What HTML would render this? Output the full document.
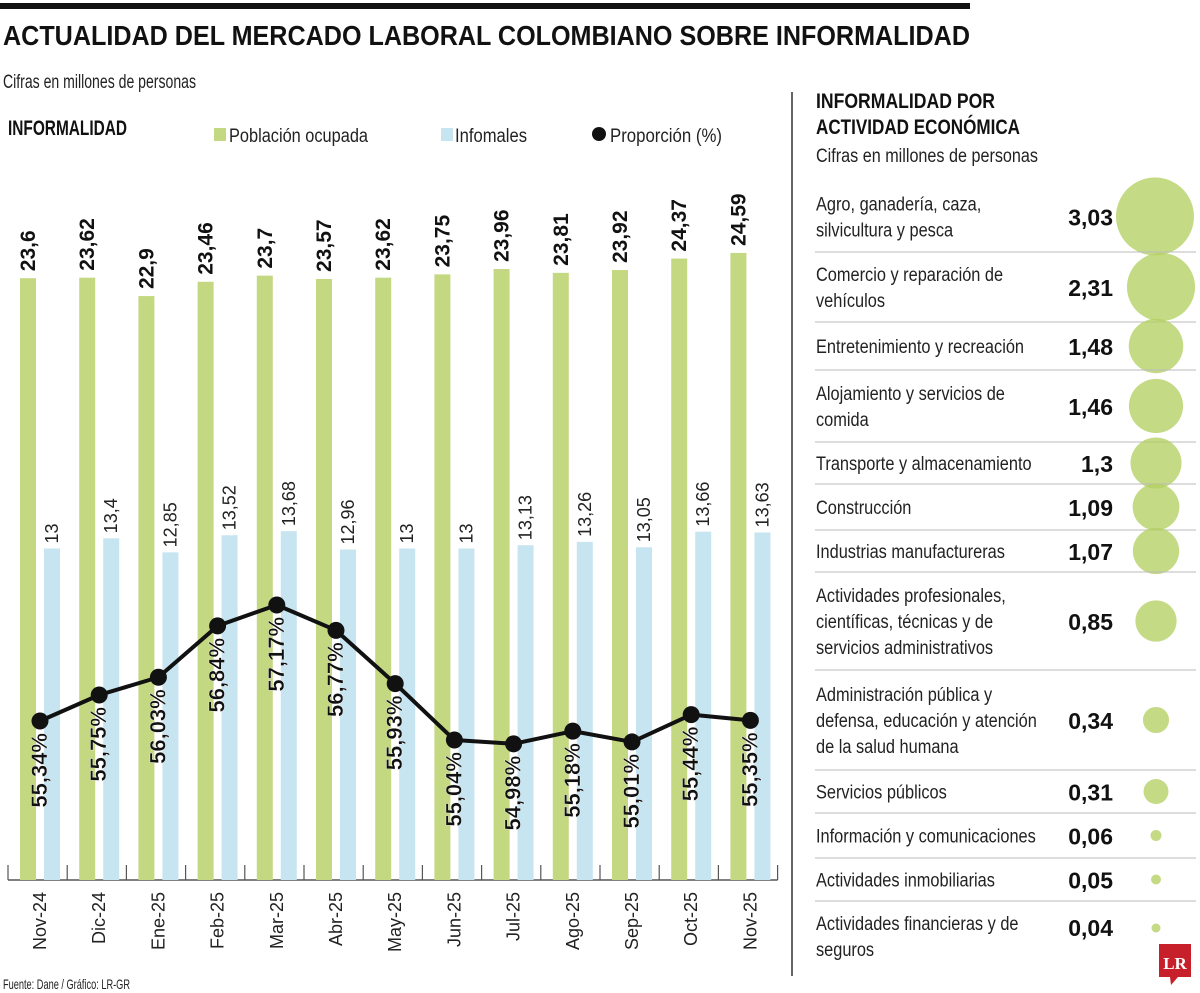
<!DOCTYPE html>
<html><head><meta charset="utf-8"><style>
body{margin:0;background:#fff;}
svg{display:block;font-family:"Liberation Sans Narrow","Liberation Sans",sans-serif;}
</style></head><body>
<svg id="chart" width="1200" height="993" viewBox="0 0 1200 993" xmlns="http://www.w3.org/2000/svg">
<rect x="0" y="3" width="970" height="6" fill="#111"/>
<text x="3" y="45" font-size="28" font-weight="bold" fill="#111" textLength="967" lengthAdjust="spacingAndGlyphs">ACTUALIDAD DEL MERCADO LABORAL COLOMBIANO SOBRE INFORMALIDAD</text>
<text x="3" y="88" font-size="19" fill="#222" textLength="193" lengthAdjust="spacingAndGlyphs">Cifras en millones de personas</text>
<text x="8" y="135" font-size="21" font-weight="bold" fill="#111" textLength="119" lengthAdjust="spacingAndGlyphs">INFORMALIDAD</text>
<g>
<rect x="214" y="128" width="12" height="13" fill="#c4d882"/>
<text x="229" y="142" font-size="19" fill="#222" textLength="139" lengthAdjust="spacingAndGlyphs">Población ocupada</text>
<rect x="441" y="128" width="12" height="13" fill="#c7e5f1"/>
<text x="455" y="142" font-size="19" fill="#222" textLength="72" lengthAdjust="spacingAndGlyphs">Infomales</text>
<circle cx="599" cy="134" r="7" fill="#111"/>
<text x="610" y="142" font-size="19" fill="#222" textLength="112" lengthAdjust="spacingAndGlyphs">Proporción (%)</text>
</g>
<g id="bars"></g>
<g id="line"></g>
<line x1="792" y1="92" x2="792" y2="976" stroke="#333" stroke-width="1.5"/>
<text x="816" y="108" font-size="21" font-weight="bold" fill="#111" textLength="179" lengthAdjust="spacingAndGlyphs">INFORMALIDAD POR</text>
<text x="816" y="134" font-size="21" font-weight="bold" fill="#111" textLength="204" lengthAdjust="spacingAndGlyphs">ACTIVIDAD ECONÓMICA</text>
<text x="816" y="162" font-size="19" fill="#222" textLength="222" lengthAdjust="spacingAndGlyphs">Cifras en millones de personas</text>
<g id="panel"></g>
<text x="3" y="989" font-size="14" fill="#222" textLength="127" lengthAdjust="spacingAndGlyphs">Fuente: Dane / Gráfico: LR-GR</text>
<g>
<rect x="1159" y="944" width="32" height="33" fill="#c8202a"/>
<polygon points="1170,977 1178,977 1171,985" fill="#c8202a"/>
<text x="1175" y="969" font-size="17" font-weight="bold" fill="#fff" text-anchor="middle" font-family="Liberation Serif,serif">LR</text>
</g>
</svg>
<script>
const months=["Nov-24","Dic-24","Ene-25","Feb-25","Mar-25","Abr-25","May-25","Jun-25","Jul-25","Ago-25","Sep-25","Oct-25","Nov-25"];
const ocupada=[23.6,23.62,22.9,23.46,23.7,23.57,23.62,23.75,23.96,23.81,23.92,24.37,24.59];
const informales=[13,13.4,12.85,13.52,13.68,12.96,13,13,13.13,13.26,13.05,13.66,13.63];
const proporcion=[55.34,55.75,56.03,56.84,57.17,56.77,55.93,55.04,54.98,55.18,55.01,55.44,55.35];
const sectors=["Agro, ganadería, caza,|silvicultura y pesca","Comercio y reparación de|vehículos","Entretenimiento y recreación","Alojamiento y servicios de|comida","Transporte y almacenamiento","Construcción","Industrias manufactureras","Actividades profesionales,|científicas, técnicas y de|servicios administrativos","Administración pública y|defensa, educación y atención|de la salud humana","Servicios públicos","Información y comunicaciones","Actividades inmobiliarias","Actividades financieras y de|seguros"];
const sectorValues=[3.03,2.31,1.48,1.46,1.3,1.09,1.07,0.85,0.34,0.31,0.06,0.05,0.04];

const NS="http://www.w3.org/2000/svg";
function mk(tag,attrs,parent,txt){const e=document.createElementNS(NS,tag);for(const k in attrs)e.setAttribute(k,attrs[k]);if(txt!==undefined)e.textContent=txt;parent.appendChild(e);return e;}
const fmt=v=>String(v).replace('.',',');
const x0=8,step=59.2,base=880,yk=25.5;
const xCat=i=>x0+step*i;
const yBar=v=>base-v*yk;
const yPct=v=>721-(v-55.34)*63.4;
const bars=document.getElementById('bars');
mk('line',{x1:x0,y1:base,x2:xCat(months.length),y2:base,stroke:'#555','stroke-width':1.5,},bars);
for(let i=0;i<=months.length;i++){
 const t=mk('line',{x1:xCat(i),y1:865,x2:xCat(i),y2:base,stroke:'#555','stroke-width':1.2},bars);
 
 
}
months.forEach((m,i)=>{
 const gx=xCat(i)+12,bx=xCat(i)+36;
 const g=mk('rect',{x:gx,y:yBar(ocupada[i]),width:16,height:ocupada[i]*yk,fill:'#c4d882'},bars);
 
 
 const b=mk('rect',{x:bx,y:yBar(informales[i]),width:16,height:informales[i]*yk,fill:'#c7e5f1'},bars);
 
 
 let yy=yBar(ocupada[i])-7;
 const gl=mk('text',{x:gx+8+7,y:yy,transform:`rotate(-90 ${gx+15} ${yy})`,'font-size':21,'font-weight':'bold',fill:'#111'},bars,fmt(ocupada[i]));
 
 
 yy=yBar(informales[i])-5;
 const bl=mk('text',{x:bx+8+6,y:yy,transform:`rotate(-90 ${bx+14} ${yy})`,'font-size':18,fill:'#222'},bars,fmt(informales[i]));
 
 
 const cx=xCat(i)+38;
 const ml=mk('text',{x:cx,y:892,transform:`rotate(-90 ${cx} 892)`,'text-anchor':'end','font-size':18,fill:'#222'},bars,m);
 
 
});
const line=document.getElementById('line');
const pts=proporcion.map((v,i)=>[xCat(i)+32,yPct(v)]);
const pl=mk('polyline',{points:pts.map(p=>p.join(',')).join(' '),fill:'none',stroke:'#111','stroke-width':4,'stroke-linejoin':'round'},line);


pts.forEach((p,i)=>{
 const c=mk('circle',{cx:p[0],cy:p[1],r:8.5,fill:'#111'},line);
 
 
 const ty=p[1]+12,tx=p[0]+7;
 const t=mk('text',{x:tx,y:ty,transform:`rotate(-90 ${tx} ${ty})`,'text-anchor':'end','font-size':22,'font-weight':'bold',fill:'#111',stroke:'#fff','stroke-width':0.3},line,fmt(proporcion[i])+'%');
 
 
});
const panel=document.getElementById('panel');
const rowTops=[181,252,322,370,442,484,530,572,670,770,813,858,901];
const rowBots=[252,322,370,442,484,530,572,670,770,813,858,901,970];
sectors.forEach((s,i)=>{
 const top=rowTops[i],bot=rowBots[i],mid=(top+bot)/2;
 if(i>0){const l=mk('line',{x1:815,y1:top,x2:1196,y2:top,stroke:'#bbb','stroke-width':1},panel);
  }
 const lines=s.split('|');
 const lh=26;
 let start=mid-(lines.length-1)*lh/2+7;
 if(i===12) start=top+29;
 lines.forEach((ln,k)=>{
  const t=mk('text',{x:816,y:start+k*lh,'font-size':19,fill:'#222'},panel,ln);
  
  
  const w=t.getComputedTextLength();
  if(w>0){t.setAttribute('textLength',(w*0.86).toFixed(1));t.setAttribute('lengthAdjust','spacingAndGlyphs');}
 });
 const vy=i===12?top+35:mid+9;
 const v=mk('text',{x:1113,y:vy,'text-anchor':'end','font-size':23,'font-weight':'bold',fill:'#111'},panel,fmt(sectorValues[i]));
 
 
 const r=Math.max(3.5,22.4*Math.sqrt(sectorValues[i]));
 const cx=i===0?1155:(i===1?1161:1156);
 const cy=i===12?top+27:mid;
 const c=mk('circle',{cx:cx,cy:cy,r:r,fill:'#b4cf62','fill-opacity':0.78},panel);
 
 
});
</script>
</body></html>
